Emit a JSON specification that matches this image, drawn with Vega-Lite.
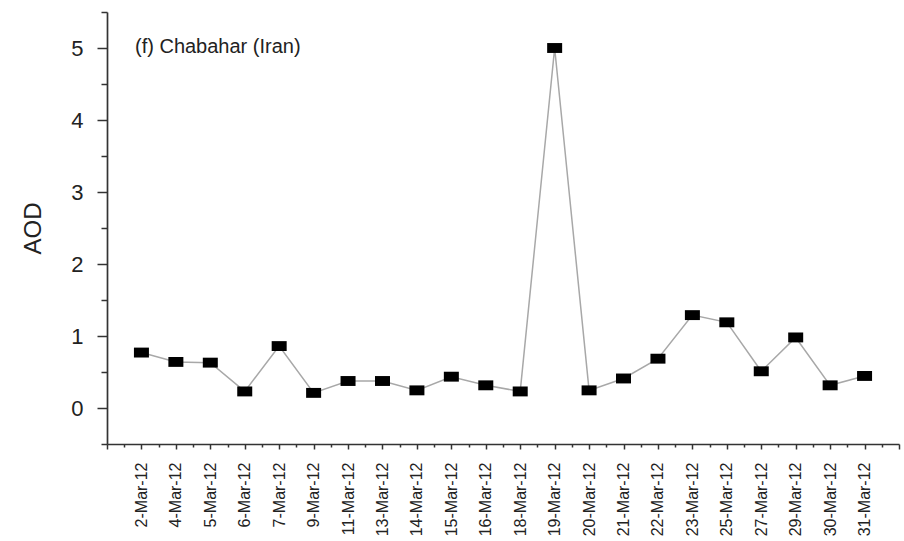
{
  "$schema": "https://vega.github.io/schema/vega-lite/v6.json",
  "width": 792,
  "height": 432,
  "autosize": "none",
  "padding": {"left": 107, "top": 12, "right": 5, "bottom": 97},
  "background": "white",
  "title": {
    "text": "(f) Chabahar (Iran)",
    "anchor": "start",
    "orient": "top",
    "frame": "group",
    "font": "Liberation Sans",
    "fontSize": 20,
    "fontWeight": "normal",
    "color": "#222",
    "baseline": "alphabetic",
    "offset": 0,
    "dx": 28,
    "dy": 72
  },
  "config": {
    "view": {"stroke": null},
    "axis": {"grid": false, "domainColor": "#333", "tickColor": "#333", "domainWidth": 1.7, "tickWidth": 1.5}
  },
  "data": {
    "values": [
      {"idx": 1, "date": "2-Mar-12", "aod": 0.77},
      {"idx": 2, "date": "4-Mar-12", "aod": 0.64},
      {"idx": 3, "date": "5-Mar-12", "aod": 0.63},
      {"idx": 4, "date": "6-Mar-12", "aod": 0.23},
      {"idx": 5, "date": "7-Mar-12", "aod": 0.86},
      {"idx": 6, "date": "9-Mar-12", "aod": 0.21},
      {"idx": 7, "date": "11-Mar-12", "aod": 0.375},
      {"idx": 8, "date": "13-Mar-12", "aod": 0.375},
      {"idx": 9, "date": "14-Mar-12", "aod": 0.245},
      {"idx": 10, "date": "15-Mar-12", "aod": 0.435},
      {"idx": 11, "date": "16-Mar-12", "aod": 0.315},
      {"idx": 12, "date": "18-Mar-12", "aod": 0.23},
      {"idx": 13, "date": "19-Mar-12", "aod": 5.0},
      {"idx": 14, "date": "20-Mar-12", "aod": 0.245},
      {"idx": 15, "date": "21-Mar-12", "aod": 0.41},
      {"idx": 16, "date": "22-Mar-12", "aod": 0.685},
      {"idx": 17, "date": "23-Mar-12", "aod": 1.29},
      {"idx": 18, "date": "25-Mar-12", "aod": 1.19},
      {"idx": 19, "date": "27-Mar-12", "aod": 0.51},
      {"idx": 20, "date": "29-Mar-12", "aod": 0.98},
      {"idx": 21, "date": "30-Mar-12", "aod": 0.315},
      {"idx": 22, "date": "31-Mar-12", "aod": 0.445}
    ]
  },
  "encoding": {
    "x": {
      "field": "idx",
      "type": "quantitative",
      "scale": {"domain": [0, 23], "nice": false, "zero": false},
      "axis": {
        "title": null,
        "values": [0, 0.5, 1, 1.5, 2, 2.5, 3, 3.5, 4, 4.5, 5, 5.5, 6, 6.5, 7, 7.5, 8, 8.5, 9, 9.5, 10, 10.5, 11, 11.5, 12, 12.5, 13, 13.5, 14, 14.5, 15, 15.5, 16, 16.5, 17, 17.5, 18, 18.5, 19, 19.5, 20, 20.5, 21, 21.5, 22, 22.5, 23],
        "labelExpr": "(datum.value % 1 === 0 && datum.value >= 1 && datum.value <= 22) ? ['2-Mar-12','4-Mar-12','5-Mar-12','6-Mar-12','7-Mar-12','9-Mar-12','11-Mar-12','13-Mar-12','14-Mar-12','15-Mar-12','16-Mar-12','18-Mar-12','19-Mar-12','20-Mar-12','21-Mar-12','22-Mar-12','23-Mar-12','25-Mar-12','27-Mar-12','29-Mar-12','30-Mar-12','31-Mar-12'][datum.value - 1] : ''",
        "labelAngle": -90,
        "labelAlign": "right",
        "labelBaseline": "middle",
        "labelFont": "Liberation Sans Narrow, Liberation Sans",
        "labelFontSize": 16,
        "labelColor": "#222",
        "labelPadding": 13,
        "labelOverlap": false,
        "labelFlush": false,
        "tickSize": {"condition": {"test": "datum.value % 1 === 0", "value": 5}, "value": 3}
      }
    },
    "y": {
      "field": "aod",
      "type": "quantitative",
      "scale": {"domain": [-0.5, 5.5], "nice": false, "zero": false},
      "axis": {
        "title": "AOD",
        "titleFont": "Liberation Sans",
        "titleFontSize": 24,
        "titleFontWeight": "normal",
        "titleColor": "#222",
        "titlePadding": 25,
        "values": [-0.5, 0, 0.5, 1, 1.5, 2, 2.5, 3, 3.5, 4, 4.5, 5, 5.5],
        "labelExpr": "datum.value % 1 === 0 ? format(datum.value, 'd') : ''",
        "labelFont": "Liberation Sans",
        "labelFontSize": 22,
        "labelColor": "#222",
        "labelPadding": 14,
        "labelOverlap": false,
        "labelFlush": false,
        "tickSize": {"condition": {"test": "datum.value % 1 === 0", "value": 10}, "value": 6}
      }
    }
  },
  "layer": [
    {"mark": {"type": "line", "color": "#a8a8a8", "strokeWidth": 1.5}},
    {"mark": {"type": "point", "filled": true, "color": "black", "opacity": 1, "size": 225, "shape": "M-1,-0.66L1,-0.66L1,0.66L-1,0.66Z"}}
  ]
}
